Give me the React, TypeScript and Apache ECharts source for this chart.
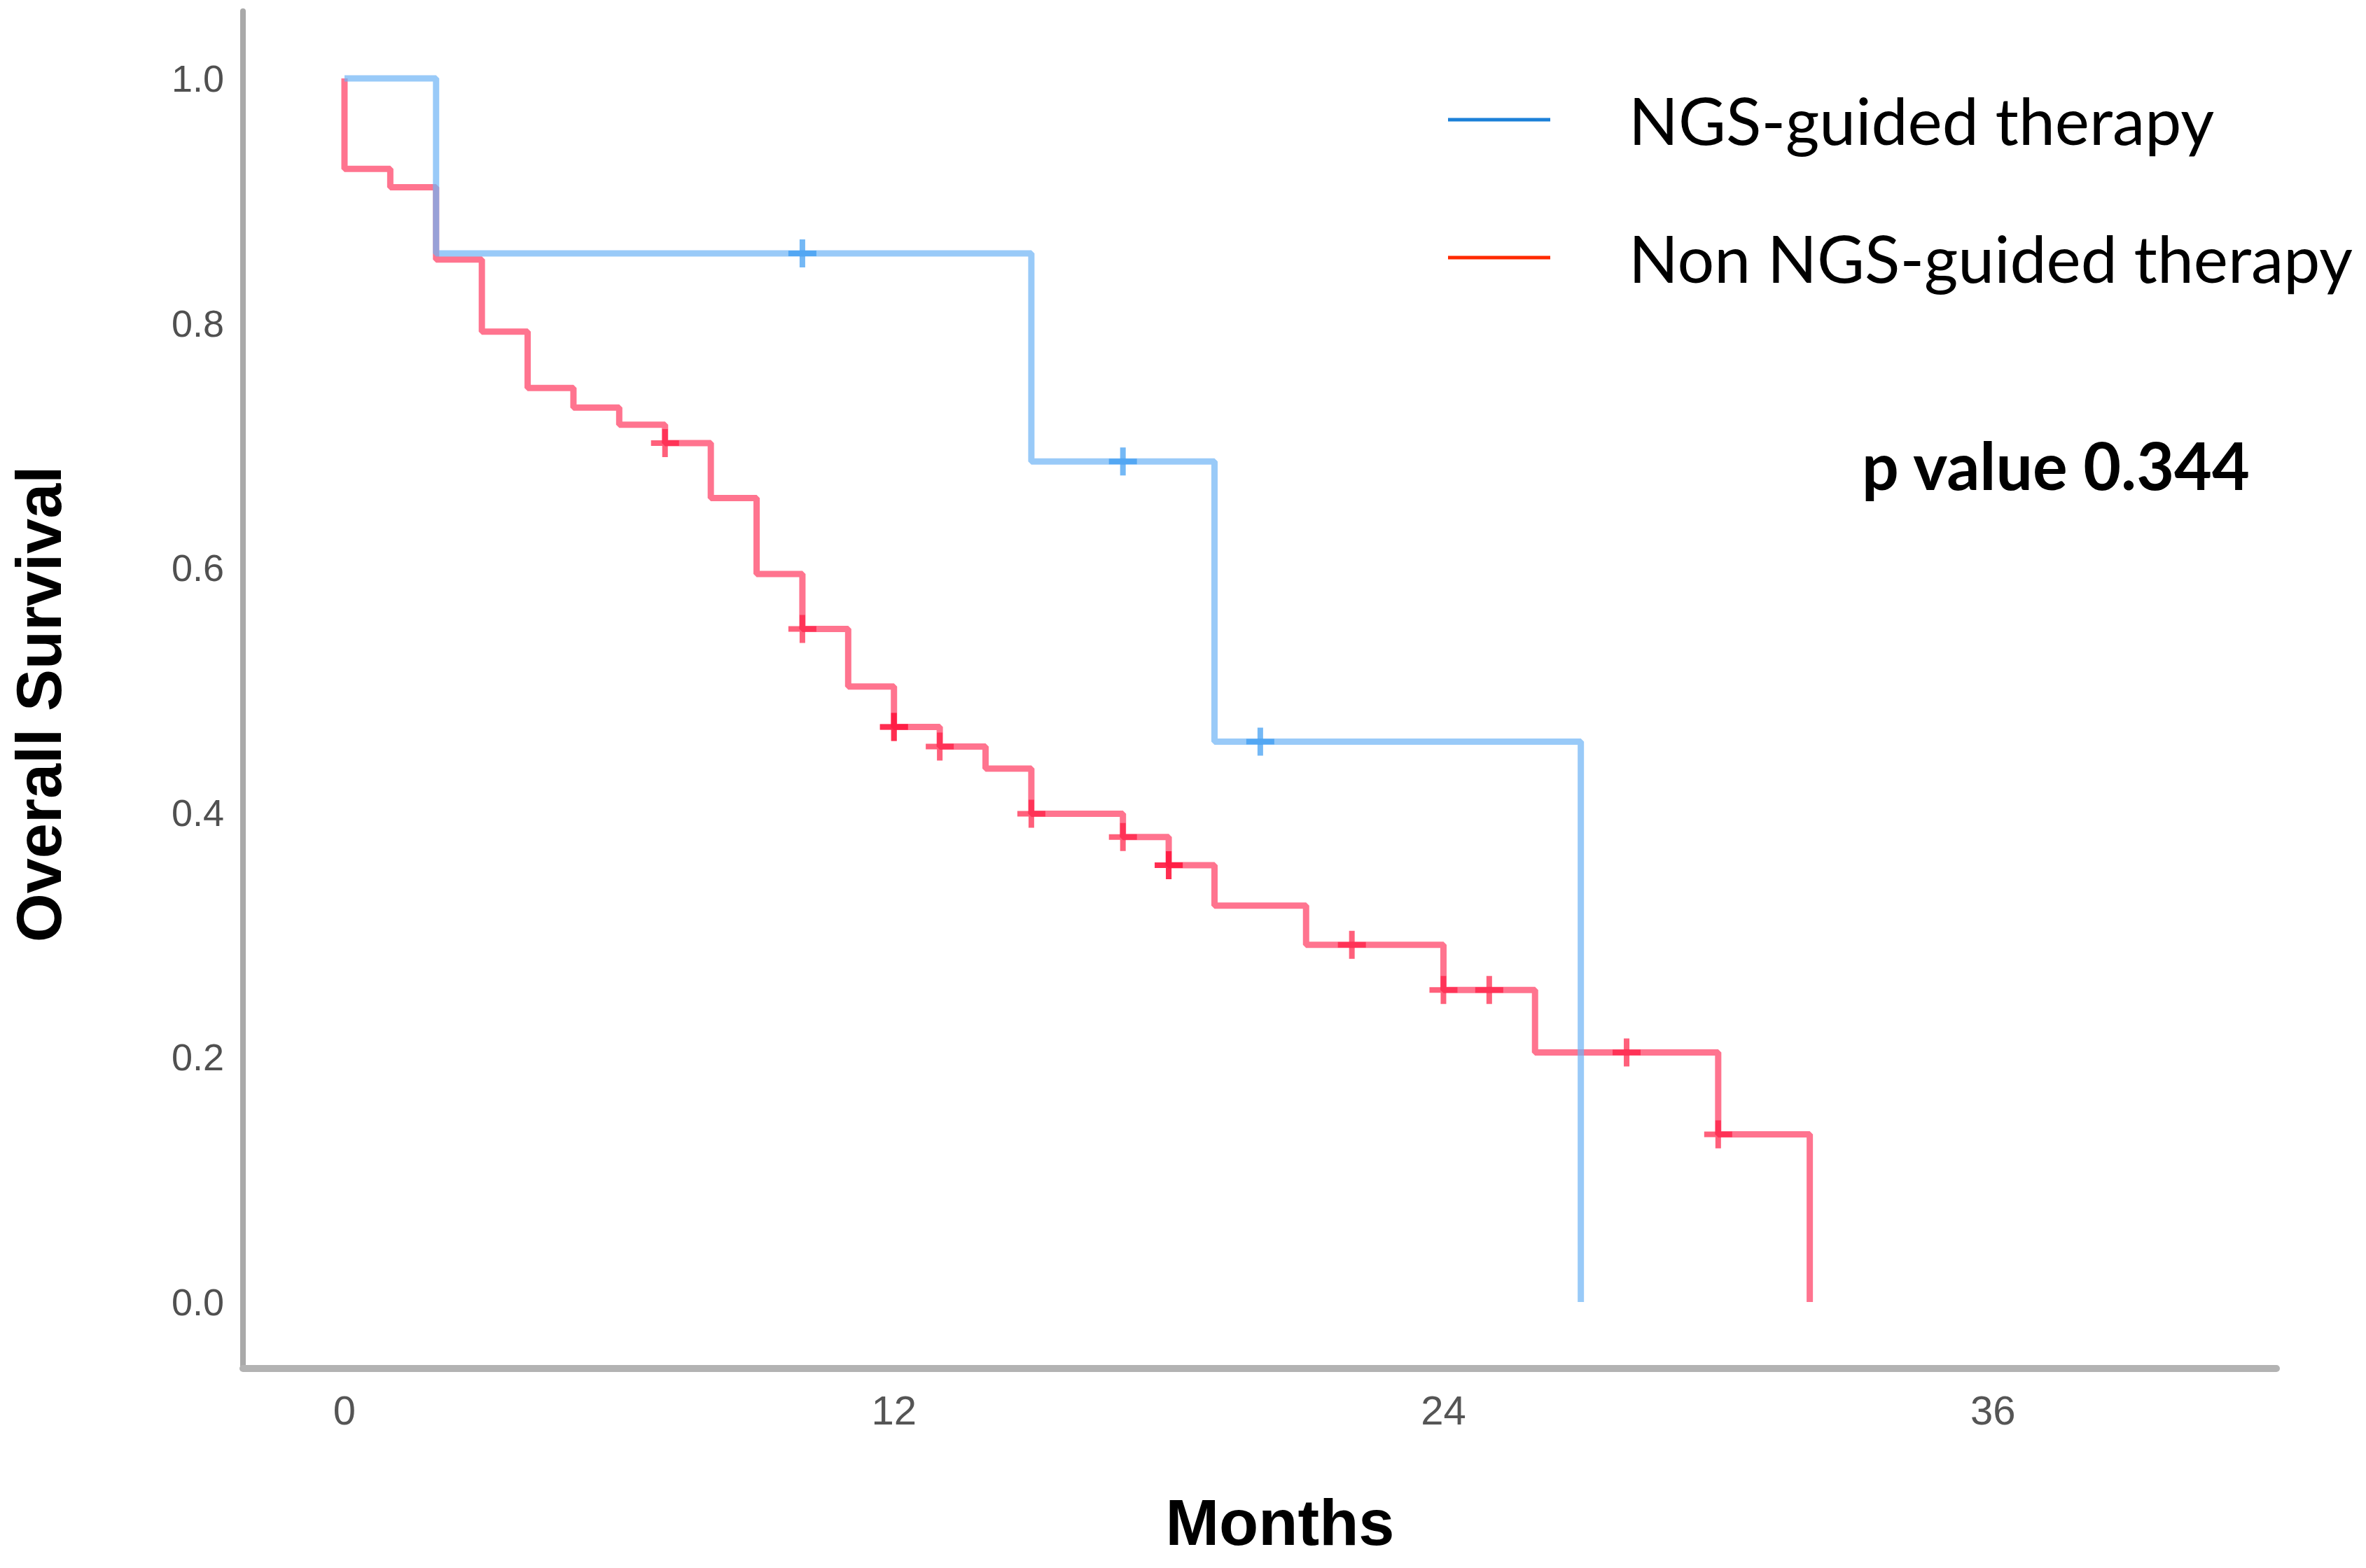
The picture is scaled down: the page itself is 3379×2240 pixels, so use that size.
import React, { useEffect, useRef } from "react";
import * as echarts from "echarts";

// ---- Data ----
const ngsEventTimes = [0, 2, 15, 19, 27];
const ngsEventSurv = [1, 0.857, 0.687, 0.458, 0];
const ngsCensorTimes = [10, 17, 20];

const nonEventTimes = [0, 0, 1, 2, 3, 4, 5, 6, 7, 8, 9, 10, 11, 12, 13, 14, 15, 17, 18, 19, 21, 24, 26, 30, 32];
const nonEventSurv = [1, 0.926, 0.911, 0.852, 0.793, 0.747, 0.731, 0.717, 0.702, 0.657, 0.595, 0.55, 0.503, 0.47, 0.454, 0.436, 0.399, 0.38, 0.357, 0.324, 0.292, 0.255, 0.204, 0.137, 0];
const nonCensorTimes = [7, 10, 12, 12, 13, 15, 17, 18, 18, 22, 24, 25, 28, 30];

const xTickValues = [0, 12, 24, 36];
const yTickValues = [0, 0.2, 0.4, 0.6, 0.8, 1.0];

const seriesNames = ["NGS-guided therapy", "Non NGS-guided therapy"];

function survAt(times: number[], surv: number[], t: number) {
  let s = surv[0];
  for (let i = 0; i < times.length; i++) {
    if (times[i] <= t) s = surv[i];
  }
  return s;
}

const PLUS = "path://M-4,-20 h8 v16 h16 v8 h-16 v16 h-8 v-16 h-16 v-8 h16 z";

export default function App() {
  const ref = useRef<HTMLDivElement>(null);
  useEffect(() => {
    const chart = echarts.init(ref.current as HTMLDivElement, null, { renderer: "svg" });
    const option: any = {
      animation: false,
      backgroundColor: "#ffffff",
      grid: { left: 347, right: 128, top: 16, bottom: 285, containLabel: false },
      xAxis: {
        type: "value",
        min: -2.217,
        max: 42.19,
        axisLine: { show: true, onZero: false, lineStyle: { color: "#b3b3b3", width: 10 } },
        axisTick: { show: false },
        splitLine: { show: false },
        axisLabel: {
          customValues: xTickValues,
          margin: 30,
          fontSize: 58,
          color: "#555555",
          fontFamily: "Liberation Sans, Arial, sans-serif",
          formatter: (v: number) => String(v),
        },
      },
      yAxis: {
        type: "value",
        min: -0.0543,
        max: 1.0549,
        axisLine: { show: true, onZero: false, lineStyle: { color: "#a9a9a9", width: 8 } },
        axisTick: { show: false },
        splitLine: { show: false },
        axisLabel: {
          customValues: yTickValues,
          margin: 27,
          fontSize: 54,
          color: "#505050",
          fontFamily: "Liberation Sans, Arial, sans-serif",
          formatter: (v: number) => v.toFixed(1),
        },
      },
      legend: {
        orient: "vertical",
        left: 2063,
        top: 106,
        itemWidth: 146,
        itemHeight: 5,
        itemGap: 77,
        icon: "rect",
        selectedMode: false,
        textStyle: {
          fontFamily: "Lato, sans-serif",
          fontSize: 93,
          lineHeight: 92,
          color: "#000000",
          padding: [0, 0, 28, 107],
        },
        data: [
          { name: seriesNames[0], itemStyle: { color: "#1b80d8" }, lineStyle: { color: "#1b80d8" } },
          { name: seriesNames[1], itemStyle: { color: "#ff2a00" }, lineStyle: { color: "#ff2a00" } },
        ],
      },
      graphic: [
        {
          type: "text",
          x: 2936,
          y: 664,
          style: {
            text: "p value 0.344",
            fontFamily: "Lato, sans-serif",
            fontWeight: "bold",
            fontSize: 93,
            fill: "#000000",
            align: "center",
            verticalAlign: "middle",
          },
        },
        {
          type: "text",
          x: 1828,
          y: 2175,
          style: {
            text: "Months",
            fontFamily: "Liberation Sans, Arial, sans-serif",
            fontWeight: "bold",
            fontSize: 92,
            fill: "#000000",
            align: "center",
            verticalAlign: "middle",
          },
        },
        {
          type: "text",
          x: 56,
          y: 1006,
          rotation: Math.PI / 2,
          style: {
            text: "Overall Survival",
            fontFamily: "Liberation Sans, Arial, sans-serif",
            fontWeight: "bold",
            fontSize: 90,
            fill: "#000000",
            align: "center",
            verticalAlign: "middle",
          },
        },
      ],
      series: [
        {
          name: seriesNames[1],
          type: "line",
          step: "end",
          showSymbol: false,
          symbol: "none",
          z: 2,
          itemStyle: { color: "#ff2a00" },
          lineStyle: { color: "rgba(255,50,90,0.68)", width: 9 },
          data: nonEventTimes.map((t, i) => [t, nonEventSurv[i]]),
        },
        {
          name: seriesNames[1] + " censored",
          type: "scatter",
          symbol: PLUS,
          symbolSize: [40, 40],
          z: 3,
          itemStyle: { color: "rgba(255,20,60,0.85)" },
          data: nonCensorTimes.map((t) => [t, survAt(nonEventTimes, nonEventSurv, t)]),
        },
        {
          name: seriesNames[0],
          type: "line",
          step: "end",
          showSymbol: false,
          symbol: "none",
          z: 4,
          itemStyle: { color: "#1b80d8" },
          lineStyle: { color: "rgba(110,180,245,0.7)", width: 9 },
          data: ngsEventTimes.map((t, i) => [t, ngsEventSurv[i]]),
        },
        {
          name: seriesNames[0] + " censored",
          type: "scatter",
          symbol: PLUS,
          symbolSize: [40, 40],
          z: 5,
          itemStyle: { color: "rgba(50,150,240,0.85)" },
          data: ngsCensorTimes.map((t) => [t, survAt(ngsEventTimes, ngsEventSurv, t)]),
        },
      ],
    };
    chart.setOption(option);
    return () => chart.dispose();
  }, []);
  return (
    <div
      ref={ref}
      style={{ position: "fixed", left: 0, top: 0, width: 3379, height: 2240, background: "#ffffff" }}
    />
  );
}
